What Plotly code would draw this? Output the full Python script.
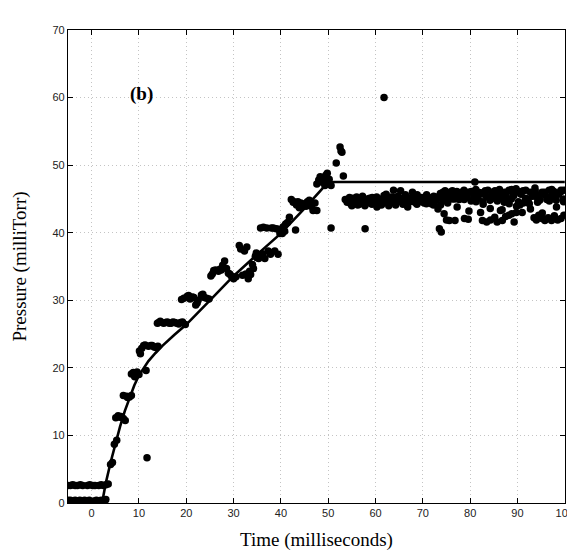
import plotly.graph_objects as go

# ---- measured data points (time ms, pressure mTorr) ----
base_x = [-5.0, -4.5, -4.0, -3.5, -3.0, -2.5, -2.0, -1.5, -1.0, -0.5,
          0.5, 1.0, 1.5, 2.0, 2.5, 3.0,
          -5.0, -4.5, -4.0, -3.5, -3.0, -2.4, -1.9,
          -0.9, -0.4, 0.2, 0.7,
          1.5, 2.0, 2.5, 3.0, 3.5]
base_y = [0.4, 0.4, 0.3, 0.4, 0.3, 0.4, 0.3, 0.4, 0.3, 0.4,
          0.3, 0.4, 0.3, 0.4, 0.3, 0.5,
          2.6, 2.6, 2.7, 2.6, 2.6, 2.7, 2.6,
          2.6, 2.7, 2.6, 2.6,
          2.6, 2.7, 2.6, 2.7, 2.8]

rise_x = [4.0, 4.4, 4.8, 5.3, 5.1, 6.2, 6.7, 7.1, 6.7, 7.6, 8.4, 8.4, 9.1, 9.6,
          10.0, 10.3, 10.6, 11.0, 11.7, 11.5, 12.5, 13.2, 14.0,
          13.9, 14.5, 15.2, 16.0, 16.8, 17.6, 18.4, 19.2, 19.8,
          19.0, 20.2, 20.8, 21.3, 22.0, 22.5, 23.2, 23.8, 24.3,
          25.5, 26.2, 26.8, 27.4, 28.1, 28.9, 29.5, 30.0,
          31.2, 31.9, 32.3, 32.8, 33.1, 33.6, 34.2, 34.6, 35.0,
          35.7, 36.1, 36.6, 37.3, 37.8, 38.4, 39.0, 39.4, 39.5,
          40.3, 40.8, 41.4, 42.2, 42.6, 43.1, 43.3, 43.9, 44.5, 45.0,
          45.6, 46.2, 46.8, 47.6, 47.6, 48.0, 48.3, 49.0, 49.8, 50.2, 50.6,
          50.6, 51.7, 52.5, 52.7, 52.9, 53.2, 53.6]
rise_y = [5.7, 6.0, 8.7, 9.3, 12.6, 12.8, 12.5, 12.2, 15.9, 15.6, 15.9, 19.1, 18.7, 19.4,
          19.0, 22.1, 22.9, 23.3, 6.7, 19.6, 23.3, 23.1, 23.2,
          26.6, 26.9, 26.6, 26.8, 26.6, 26.7, 26.5, 26.8, 26.4,
          30.1, 30.6, 30.2, 30.5, 29.3, 30.0, 30.8, 30.4, 30.3,
          33.9, 34.5, 34.3, 34.5, 35.8, 34.0, 33.6, 33.2,
          38.1, 33.7, 37.3, 37.9, 33.2, 33.8, 34.7, 36.5, 36.3,
          40.7, 36.9, 36.2, 37.3, 36.8, 40.7, 40.6, 36.8, 40.5,
          39.9, 40.2, 41.5, 44.9, 44.5, 40.4, 44.1, 43.7, 44.1, 44.3,
          44.6, 44.0, 43.3, 43.3, 47.2, 47.8, 48.3, 47.6, 48.8, 47.9, 47.0,
          40.7, 50.3, 52.7, 52.1, 51.9, 48.4, 44.9]

rise2_x = [5.6, 6.0, 7.4, 8.0, 8.8, 9.3, 10.1, 11.3, 12.0, 12.8, 13.6,
           14.2, 15.6, 16.4, 17.2, 18.0, 18.8, 19.5, 20.5, 21.6, 22.3, 23.5,
           24.8, 25.2, 25.8, 27.1, 27.7, 28.5, 29.2, 30.5, 31.5, 32.6, 33.4,
           34.0, 34.8, 35.3, 36.3, 37.0, 37.6, 38.0, 38.7, 39.8, 40.5, 41.0,
           41.8, 42.8, 43.6, 44.2, 45.3, 46.0, 46.5, 47.2, 48.6, 49.3, 49.5, 50.0]
rise2_y = [12.9, 12.7, 15.8, 15.7, 19.3, 19.0, 22.5, 23.4, 23.2, 23.3, 23.0,
           26.7, 26.7, 26.6, 26.8, 26.6, 26.7, 30.3, 30.7, 30.4, 29.6, 30.9,
           30.2, 33.6, 34.4, 34.6, 35.2, 34.7, 33.9, 33.5, 37.6, 33.9, 34.3,
           35.3, 37.0, 36.2, 40.8, 40.7, 37.1, 40.7, 37.3, 39.9, 40.9, 41.3,
           42.3, 44.6, 44.6, 44.4, 43.9, 44.8, 43.9, 44.4, 47.5, 47.0, 48.5, 47.2]

plat_x = [54.0, 54.5, 55.0, 55.5, 56.0, 56.5, 57.0, 57.5, 58.3, 58.8, 59.3, 59.8,
          60.3, 60.8, 61.3, 61.8, 62.3, 62.8, 63.3, 63.8, 64.3, 64.8, 65.3, 65.8,
          66.3, 66.8, 67.3, 67.8, 68.3, 68.8, 69.3, 69.8, 70.3, 70.8, 71.3, 71.8,
          72.3, 72.8,
          73.2, 73.7, 74.2, 74.7, 75.2, 75.7, 76.2, 76.7, 77.2, 77.7, 78.2, 78.7,
          79.2, 79.7, 80.2, 80.7, 81.2, 81.7, 82.2, 82.7, 83.2, 83.7, 84.2, 84.7,
          85.2, 85.7, 86.2, 86.7, 87.2, 87.7, 88.2, 88.7, 89.2, 89.7, 90.2, 90.7,
          91.2, 91.7, 92.2, 92.7, 93.2, 93.7, 94.2, 94.7, 95.2, 95.7, 96.2, 96.7,
          97.2, 97.7, 98.2, 98.7, 99.2, 99.7]
plat_y = [44.5, 45.2, 44.0, 44.8, 45.3, 44.2, 44.9, 44.3, 45.0, 44.4, 45.2, 44.6,
          43.8, 45.0, 44.4, 45.5, 44.8, 44.0, 45.3, 46.3, 45.0, 44.6, 46.2, 44.2,
          45.6, 43.8, 45.1, 46.0, 44.5, 45.6, 44.8, 45.2, 44.4, 45.6, 44.9, 44.3,
          45.4, 44.8,
          43.5, 45.8, 44.8, 46.2, 45.3, 46.0, 45.0, 45.6, 46.1, 44.9, 45.7, 46.3,
          45.2, 46.0, 44.7, 45.8, 46.4, 45.1, 45.9, 44.6, 46.2, 45.3, 44.8, 46.0,
          45.6, 44.9, 46.4, 45.2, 44.5, 45.9, 46.3, 45.0, 45.7, 46.5, 44.6, 45.8,
          46.2, 45.1, 44.7, 46.0, 45.4, 46.6, 45.2, 44.8, 46.0, 45.6, 44.9, 46.3,
          45.4, 46.1, 44.8, 45.7, 46.3, 45.0]

plat2_x = [54.25, 54.75, 55.25, 55.75, 56.25, 56.75, 57.25, 57.75, 58.25, 58.75,
           59.25, 59.75, 60.25, 60.75, 61.25, 61.75, 62.25, 62.75, 63.25, 63.75,
           64.25, 64.75, 65.25, 65.75, 66.25, 66.75, 67.25, 67.75, 68.25, 68.75,
           69.25, 69.75, 70.25, 70.75, 71.25, 71.75, 72.25, 72.75,
           73.25, 73.75, 74.25, 74.75, 75.25, 75.75, 76.25, 76.75, 77.25, 77.75,
           78.25, 78.75, 79.25, 79.75, 80.25, 80.75, 81.25, 81.75, 82.25, 82.75,
           83.25, 83.75, 84.25, 84.75, 85.25, 85.75, 86.25, 86.75, 87.25, 87.75,
           88.25, 88.75, 89.25, 89.75, 90.25, 90.75, 91.25, 91.75, 92.25, 92.75,
           93.25, 93.75, 94.25, 94.75, 95.25, 95.75, 96.25, 96.75, 97.25, 97.75,
           98.25, 98.75, 99.25, 99.75]
plat2_y = [44.9, 44.3, 45.1, 44.5, 44.1, 44.8, 45.4, 44.0, 44.6, 45.1,
           44.2, 44.9, 45.3, 44.5, 44.1, 45.0, 45.7, 44.3, 44.7, 45.2,
           44.1, 45.4, 44.8, 45.1, 44.4, 45.0, 44.6, 45.3, 44.9, 44.2,
           45.1, 44.6, 45.0, 44.3, 45.2, 44.7, 44.1, 45.3,
           45.2, 44.1, 46.0, 45.5, 44.4, 45.9, 46.2, 45.0, 43.8, 45.5,
           46.0, 44.9, 45.6, 43.2, 46.1, 45.3, 44.6, 46.0, 45.8, 44.2,
           45.5, 46.3, 43.6, 45.1, 46.2, 44.7, 45.9, 43.4, 46.0, 45.2,
           44.3, 46.4, 45.5, 43.0, 46.1, 45.7, 44.4, 46.3, 45.0, 43.5,
           45.9, 46.2, 44.5, 45.6, 42.9, 46.0, 45.3, 44.7, 46.4, 45.2,
           43.8, 45.9, 46.1, 44.6]

low_x = [57.8, 61.8, 73.5, 73.9, 74.5, 75.0, 75.6, 76.8, 78.8, 79.6, 81.0,
         82.2, 82.6, 83.5, 84.3, 85.2, 85.7, 86.4, 86.8, 87.5, 88.2, 88.8, 89.3,
         89.8, 90.5, 91.0, 92.5, 93.5, 94.0, 94.5, 95.2, 95.8, 96.5, 97.2, 97.8,
         98.5, 99.2, 99.8, 99.8]
low_y = [40.6, 60.0, 40.6, 40.1, 42.8, 41.9, 41.8, 41.8, 42.1, 42.0, 47.5,
         43.0, 41.8, 41.6, 41.9, 42.3, 41.6, 43.3, 41.8, 42.4, 42.6, 42.8, 41.6,
         43.9, 44.1, 43.0, 44.3, 42.2, 41.9, 42.6, 42.1, 41.8, 42.2, 41.8, 42.5,
         41.9, 42.1, 42.6, 46.3]

# ---- fitted model curve ----
fit_x = [2.2, 3.0, 4.0, 5.0, 6.0, 7.0, 8.0, 9.0, 10.0, 11.0, 12.0, 13.5, 15.0,
         17.5, 20.0, 25.0, 30.0, 35.0, 40.0, 45.0, 50.0, 100.0]
fit_y = [0.0, 3.0, 6.0, 8.8, 11.3, 13.6, 15.6, 17.4, 18.9, 20.0, 21.0, 22.2, 23.3,
         24.9, 26.4, 30.0, 33.6, 36.8, 39.9, 43.6, 47.5, 47.5]

xs = base_x + rise_x + rise2_x + plat_x + plat2_x + low_x
ys = base_y + rise_y + rise2_y + plat_y + plat2_y + low_y

fig = go.Figure()
fig.add_trace(go.Scatter(x=fit_x, y=fit_y, mode="lines",
                         line=dict(color="black", width=2.6), showlegend=False))
fig.add_trace(go.Scatter(x=xs, y=ys, mode="markers",
                         marker=dict(color="black", size=7.5, line=dict(width=0)),
                         showlegend=False))

fig.add_annotation(x=10.5, y=60.6, text="<b>(b)</b>", showarrow=False,
                   font=dict(family="Liberation Serif", size=19, color="black"))

axis_common = dict(showline=True, linecolor="black", linewidth=1.2, mirror="allticks",
                   ticks="inside", ticklen=5, tickcolor="black",
                   showgrid=True, gridcolor="#c4c4c4", griddash="1px,3px", gridwidth=1,
                   zeroline=False,
                   tickfont=dict(family="Liberation Sans", size=11, color="#222"))

fig.update_layout(
    width=575, height=550,
    margin=dict(l=60, r=9, t=22, b=55),
    paper_bgcolor="white", plot_bgcolor="white",
    xaxis=dict(range=[-5, 100.05], tickvals=[0, 10, 20, 30, 40, 50, 60, 70, 80, 90, 100],
               title=dict(text="Time (milliseconds)", standoff=14,
                          font=dict(family="Liberation Serif", size=19, color="black")),
               **axis_common),
    yaxis=dict(range=[0, 70], tickvals=[0, 10, 20, 30, 40, 50, 60, 70],
               title=dict(text="Pressure (milliTorr)", standoff=20,
                          font=dict(family="Liberation Serif", size=19, color="black")),
               **axis_common),
)

fig.write_html("out.html")
